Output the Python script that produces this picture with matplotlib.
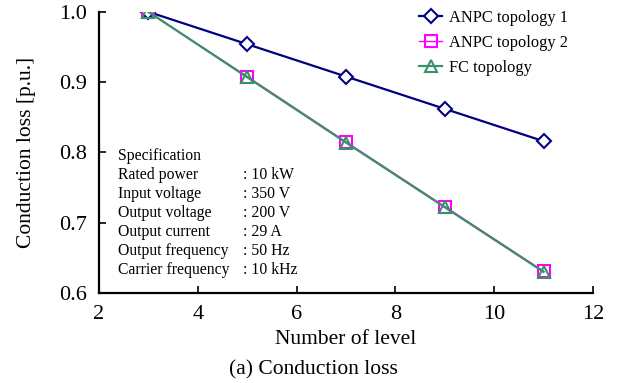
import numpy as np
import matplotlib.pyplot as plt

plt.rcParams['font.family'] = ['Liberation Serif', 'DejaVu Serif']

levels = [3, 5, 7, 9, 11]
anpc1 = [1.0, 0.954, 0.908, 0.862, 0.816]
anpc2 = [1.0, 0.908, 0.815, 0.723, 0.631]
fc = [1.0, 0.907, 0.814, 0.722, 0.630]

spec_names = ["Rated power", "Input voltage", "Output voltage",
              "Output current", "Output frequency", "Carrier frequency"]
spec_values = [": 10 kW", ": 350 V", ": 200 V", ": 29 A", ": 50 Hz", ": 10 kHz"]

fig = plt.figure(figsize=(6.19, 3.83), dpi=100)
ax = fig.add_axes([0.16, 0.235, 0.798, 0.734])

ax.plot(levels, anpc1, color="#000080", lw=1.6, marker="D", ms=7,
        mfc="white", mew=1.5, label="ANPC topology 1")
ax.plot(levels, anpc2, color="#FF00FF", lw=1.0, marker="s", ms=9,
        mfc="none", mew=1.5, label="ANPC topology 2")
ax.plot(levels, fc, color="#3A9068", lw=1.6, marker="^", ms=8,
        mfc="none", mew=1.5, label="FC topology")

ax.set_xlim(2, 12)
ax.set_ylim(0.6, 1.0)
ax.set_xticks([2, 4, 6, 8, 10, 12])
ax.set_yticks([0.6, 0.7, 0.8, 0.9, 1.0])
ax.yaxis.set_major_formatter(plt.FormatStrFormatter("%.1f"))
ax.tick_params(direction="in", length=5, width=1.2, labelsize=16, pad=9)
for s in ["top", "right"]:
    ax.spines[s].set_visible(False)
for s in ["left", "bottom"]:
    ax.spines[s].set_linewidth(1.6)

ax.set_xlabel("Number of level", fontsize=15.5, labelpad=4)
ax.set_ylabel("Conduction loss [p.u.]", fontsize=15.5, labelpad=16)
fig.text(0.506, 0.022, "(a) Conduction loss", fontsize=15.5, ha="center")

ax.legend(loc="upper right", bbox_to_anchor=(0.98, 1.06), frameon=False,
          fontsize=11.8, handlelength=1.4, handletextpad=0.45, labelspacing=0.55)

ax.text(0.038, 0.488, "Specification", transform=ax.transAxes,
        fontsize=11.3, va="center")
for i, (n, v) in enumerate(zip(spec_names, spec_values)):
    y = 0.488 - (i + 1) * 0.0676
    ax.text(0.038, y, n, transform=ax.transAxes, fontsize=11.3, va="center")
    ax.text(0.291, y, v, transform=ax.transAxes, fontsize=11.3, va="center")

fig.savefig("out.png", dpi=100)
